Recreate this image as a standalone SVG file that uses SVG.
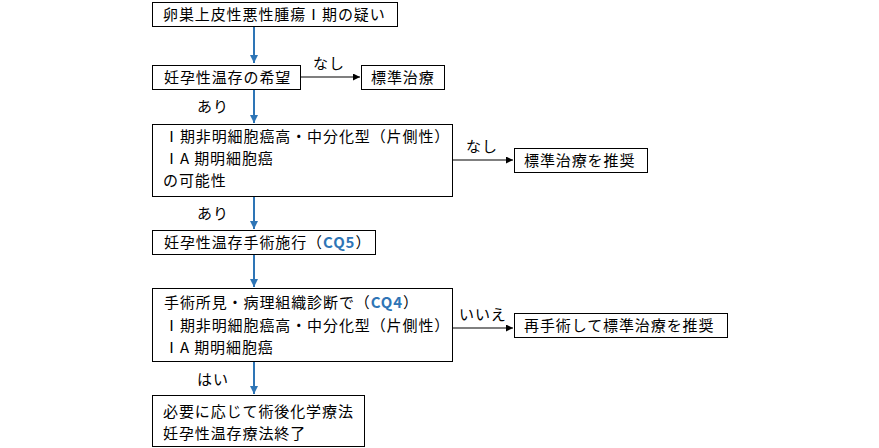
<svg xmlns="http://www.w3.org/2000/svg" width="879" height="448" viewBox="0 0 879 448">
<defs>
<style>
.box{fill:#fff;stroke:#000;stroke-width:1}
.t{font-family:"Noto Sans CJK JP","Noto Sans",sans-serif;font-size:15px;letter-spacing:0.9px;fill:#000}
.cq{fill:#2E75B6;font-weight:bold}
.lbl{font-family:"Noto Sans CJK JP","Noto Sans",sans-serif;font-size:15px;letter-spacing:0.9px;fill:#000}
.blue{stroke:#2E75B6;stroke-width:2;fill:none}
.blk{stroke:#000;stroke-width:1.2;fill:none}
</style>
<marker id="ab" viewBox="0 0 10 10" refX="10" refY="5" markerWidth="9" markerHeight="8" orient="auto" markerUnits="userSpaceOnUse"><path d="M0,0 L10,5 L0,10 z" fill="#2E75B6"/></marker>
<marker id="ak" viewBox="0 0 10 10" refX="10" refY="5" markerWidth="8" markerHeight="7" orient="auto" markerUnits="userSpaceOnUse"><path d="M0,0 L10,5 L0,10 z" fill="#000"/></marker>
</defs>
<rect width="879" height="448" fill="#fff"/>
<g id="connectors">
<line class="blue" x1="254" y1="27" x2="254" y2="63" marker-end="url(#ab)"/>
<line class="blue" x1="254" y1="90" x2="254" y2="123" marker-end="url(#ab)"/>
<line class="blue" x1="254" y1="197" x2="254" y2="229" marker-end="url(#ab)"/>
<line class="blue" x1="254" y1="255" x2="254" y2="287" marker-end="url(#ab)"/>
<line class="blue" x1="254" y1="362" x2="254" y2="394" marker-end="url(#ab)"/>
<line class="blk" x1="301" y1="77" x2="360" y2="77" marker-end="url(#ak)"/>
<line class="blk" x1="453" y1="160" x2="513" y2="160" marker-end="url(#ak)"/>
<line class="blk" x1="453" y1="328" x2="513" y2="328" marker-end="url(#ak)"/>
<text class="lbl" x="313" y="69">なし</text>
<text class="lbl" x="197" y="112">あり</text>
<text class="lbl" x="466" y="152">なし</text>
<text class="lbl" x="197" y="219">あり</text>
<text class="lbl" x="459" y="320">いいえ</text>
<text class="lbl" x="197" y="385">はい</text>
</g>
<g id="n1"><rect class="box" x="152.5" y="2.5" width="245" height="24"/><text class="t" x="163" y="20">卵巣上皮性悪性腫瘍Ⅰ期の疑い</text></g>
<g id="n2"><rect class="box" x="152.5" y="65.5" width="148" height="24"/><text class="t" x="164" y="83">妊孕性温存の希望</text></g>
<g id="n3"><rect class="box" x="361.5" y="65.5" width="83" height="24"/><text class="t" x="371" y="83">標準治療</text></g>
<g id="n4"><rect class="box" x="152.5" y="124.5" width="300" height="72"/>
<text class="t" x="164" y="142">Ⅰ期非明細胞癌高・中分化型（片側性）</text>
<text class="t" x="164" y="164">ⅠA 期明細胞癌</text>
<text class="t" x="163" y="186">の可能性</text></g>
<g id="n5"><rect class="box" x="514.5" y="148.5" width="133" height="24"/><text class="t" x="524" y="166">標準治療を推奨</text></g>
<g id="n6"><rect class="box" x="152.5" y="230.5" width="223" height="24"/><text class="t" x="164" y="248">妊孕性温存手術施行（<tspan class="cq">CQ5</tspan>）</text></g>
<g id="n7"><rect class="box" x="152.5" y="288.5" width="300" height="73"/>
<text class="t" x="164" y="308">手術所見・病理組織診断で（<tspan class="cq">CQ4</tspan>）</text>
<text class="t" x="164" y="331">Ⅰ期非明細胞癌高・中分化型（片側性）</text>
<text class="t" x="164" y="353">ⅠA 期明細胞癌</text></g>
<g id="n8"><rect class="box" x="514.5" y="313.5" width="213" height="24"/><text class="t" x="524" y="331">再手術して標準治療を推奨</text></g>
<g id="n9"><rect class="box" x="152.5" y="395.5" width="212" height="51"/>
<text class="t" x="163" y="417">必要に応じて術後化学療法</text>
<text class="t" x="163" y="439">妊孕性温存療法終了</text></g>
</svg>
